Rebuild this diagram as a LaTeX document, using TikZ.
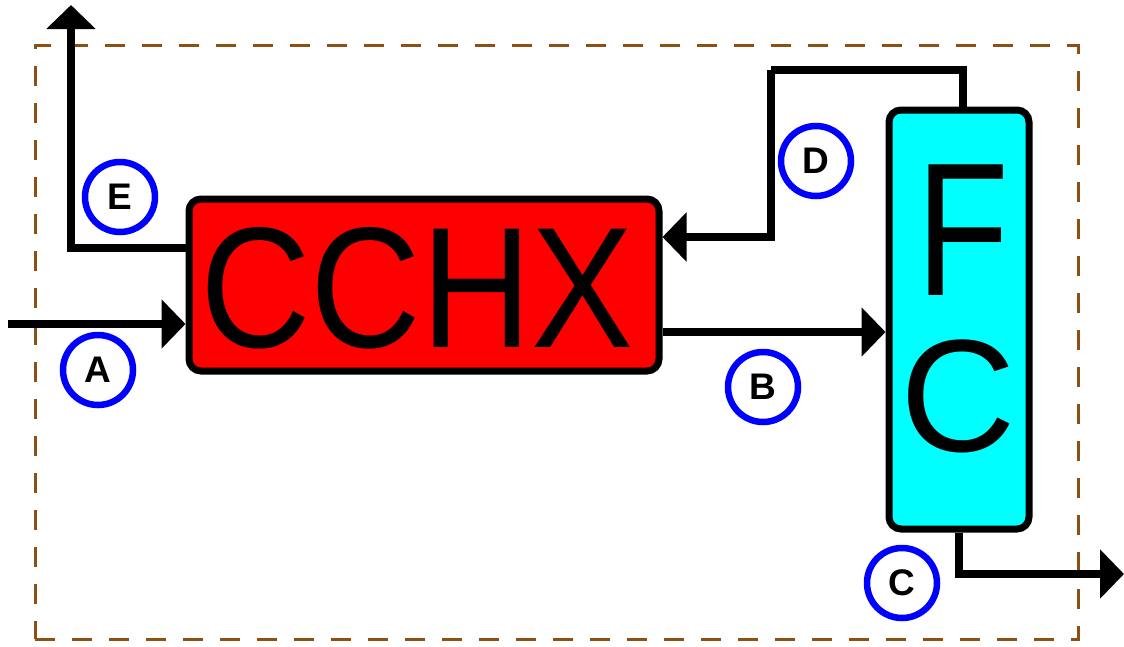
\documentclass[tikz,border=0pt]{standalone}
\usepackage{fontspec}
\setmainfont{Liberation Sans}
\usetikzlibrary{arrows.meta}
\definecolor{boxbrown}{RGB}{140,80,20}
\definecolor{unitred}{RGB}{255,0,0}
\definecolor{unitcyan}{RGB}{0,255,255}
\definecolor{tagblue}{RGB}{0,0,255}
\tikzset{
  flow/.style={line width=7.5pt, line join=miter, -{Triangle[width=48pt,length=24pt]}},
  plain/.style={line width=7.5pt, line join=miter},
  unit/.style={draw=black, line width=7pt, rounded corners=12pt, inner sep=0pt},
  tag/.style={circle, draw=tagblue, line width=6.5pt, minimum size=70pt, inner sep=0pt,
    font=\fontsize{37}{37}\selectfont\bfseries},
  bigtext/.style={inner sep=0pt, text=black}
}
\begin{document}
\begin{tikzpicture}[x=1pt,y=-1pt]
\useasboundingbox (0,0) rectangle (1124,646);
% dashed boundary
\node[draw=boxbrown, line width=3pt, dash pattern=on 20pt off 17pt, minimum width=1043pt, minimum height=594pt, inner sep=0pt] (bound) at (556.5,342) {};
% units
\node[unit, fill=unitred, minimum width=470pt, minimum height=172pt] (cchx) at (424,285) {};
\node[bigtext, font=\fontsize{172}{172}\selectfont, xscale=0.89] (cchxt) at (417,288) {CCHX};
\node[unit, fill=unitcyan, minimum width=140pt, minimum height=419pt] (fc) at (959,319.5) {};
\node[bigtext, font=\fontsize{190}{190}\selectfont, xscale=0.8] (ft) at (963,230) {F};
\node[bigtext, font=\fontsize{160}{160}\selectfont] (ct) at (958,396) {C};
% coordinates
\coordinate (a0) at (8,324);
\coordinate (e1) at (71,5);
\coordinate (d1) at (963,70);
\coordinate (d2) at (771,70);
\coordinate (c1) at (1124,574);
% streams
\draw[flow] (a0) -- (a0 -| cchx.west);
\draw[flow] (cchx.west |- 0,248) -| (e1);
\draw[plain] (fc.north -| d1) -- (d1) -- (d2);
\draw[flow] (d2) |- (cchx.east |- 0,237);
\draw[flow] (cchx.east |- 0,332) -- (fc.west |- 0,332);
\draw[flow] (fc.south -| 959,0) |- (c1);
% tags
\node[tag] (tA) at (98,370) {A};
\node[tag] (tB) at (763,387) {B};
\node[tag] (tC) at (902,583) {C};
\node[tag] (tD) at (816,161) {D};
\node[tag] (tE) at (120,197) {E};
\end{tikzpicture}
\end{document}
